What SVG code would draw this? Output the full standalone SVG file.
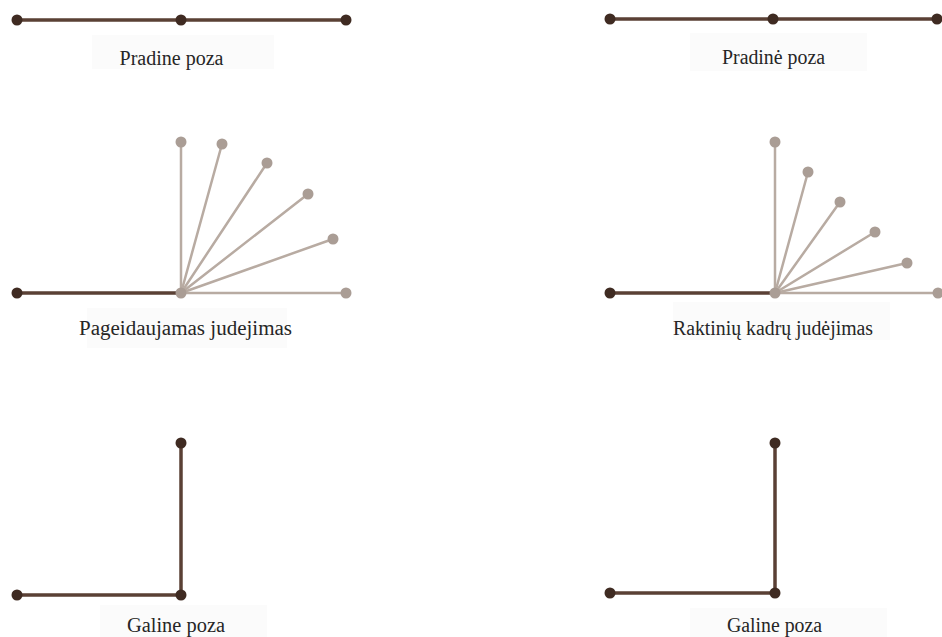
<svg xmlns="http://www.w3.org/2000/svg" width="942" height="637" viewBox="0 0 942 637">
<style>
.bg{fill:#ffffff}
.box{fill:#fbfbfb}
.dk{stroke:#5a4035;stroke-width:3.5;stroke-linecap:round;fill:none}
.lt{stroke:#b8aba2;stroke-width:2.5;stroke-linecap:round;fill:none}
.dd{fill:#3f2b22}
.ld{fill:#aa9d95}
.lbl{font-family:"Liberation Serif","Times New Roman",serif;font-size:20px;fill:#262626;text-anchor:middle}
</style>
<rect class="bg" width="942" height="637"/>
<g id="labels">
<g id="lbl-tl"><rect class="box" x="92" y="35" width="182" height="34"/><text class="lbl" x="171.5" y="65" textLength="104" lengthAdjust="spacingAndGlyphs">Pradine poza</text></g>
<g id="lbl-tr"><rect class="box" x="690" y="33" width="177" height="38"/><text class="lbl" x="773.5" y="64" textLength="103" lengthAdjust="spacingAndGlyphs">Pradinė poza</text></g>
<g id="lbl-ml"><rect class="box" x="87" y="308" width="200" height="40"/><text class="lbl" x="185.5" y="335" textLength="213" lengthAdjust="spacingAndGlyphs">Pageidaujamas judejimas</text></g>
<g id="lbl-mr"><rect class="box" x="673" y="302" width="217" height="38"/><text class="lbl" x="773" y="335" textLength="200" lengthAdjust="spacingAndGlyphs">Raktinių kadrų judėjimas</text></g>
<g id="lbl-bl"><rect class="box" x="100" y="605" width="167" height="32"/><text class="lbl" x="176" y="632" textLength="98" lengthAdjust="spacingAndGlyphs">Galine poza</text></g>
<g id="lbl-br"><rect class="box" x="690" y="608" width="197" height="29"/><text class="lbl" x="774.5" y="632" textLength="95" lengthAdjust="spacingAndGlyphs">Galine poza</text></g>
</g>
<g id="connectors">
<line class="dk" x1="17" y1="20" x2="346" y2="20"/>
<line class="dk" x1="610" y1="19" x2="937" y2="19"/>
<line class="dk" x1="17" y1="293" x2="181" y2="293"/>
<line class="lt" x1="181" y1="293" x2="346" y2="293"/>
<line class="lt" x1="181" y1="293" x2="181" y2="142"/>
<line class="lt" x1="181" y1="293" x2="222" y2="144"/>
<line class="lt" x1="181" y1="293" x2="267" y2="163"/>
<line class="lt" x1="181" y1="293" x2="308" y2="194"/>
<line class="lt" x1="181" y1="293" x2="333" y2="239"/>
<line class="dk" x1="610" y1="293" x2="775" y2="293"/>
<line class="lt" x1="775" y1="293" x2="938" y2="293"/>
<line class="lt" x1="775" y1="293" x2="775" y2="142"/>
<line class="lt" x1="775" y1="293" x2="808" y2="172"/>
<line class="lt" x1="775" y1="293" x2="840" y2="202"/>
<line class="lt" x1="775" y1="293" x2="875" y2="232"/>
<line class="lt" x1="775" y1="293" x2="907" y2="263"/>
<line class="dk" x1="17" y1="595" x2="181" y2="595"/>
<line class="dk" x1="181" y1="595" x2="181" y2="443"/>
<line class="dk" x1="610" y1="593" x2="775" y2="593"/>
<line class="dk" x1="775" y1="593" x2="775" y2="443"/>
</g>
<g id="n-tl1"><circle class="dd" cx="17" cy="20" r="5.5"/></g>
<g id="n-tl2"><circle class="dd" cx="181" cy="20" r="5.5"/></g>
<g id="n-tl3"><circle class="dd" cx="346" cy="20" r="5.5"/></g>
<g id="n-tr1"><circle class="dd" cx="610" cy="19" r="5.5"/></g>
<g id="n-tr2"><circle class="dd" cx="773" cy="19" r="5.5"/></g>
<g id="n-tr3"><circle class="dd" cx="937" cy="19" r="5.5"/></g>
<g id="n-ml1"><circle class="dd" cx="17" cy="293" r="5.5"/></g>
<g id="n-ml2"><circle class="ld" cx="181" cy="293" r="5.5"/></g>
<g id="n-ml3"><circle class="ld" cx="346" cy="293" r="5.5"/></g>
<g id="n-ml4"><circle class="ld" cx="181" cy="142" r="5.5"/></g>
<g id="n-ml5"><circle class="ld" cx="222" cy="144" r="5.5"/></g>
<g id="n-ml6"><circle class="ld" cx="267" cy="163" r="5.5"/></g>
<g id="n-ml7"><circle class="ld" cx="308" cy="194" r="5.5"/></g>
<g id="n-ml8"><circle class="ld" cx="333" cy="239" r="5.5"/></g>
<g id="n-mr1"><circle class="dd" cx="610" cy="293" r="5.5"/></g>
<g id="n-mr2"><circle class="ld" cx="775" cy="293" r="5.5"/></g>
<g id="n-mr3"><circle class="ld" cx="938" cy="293" r="5.5"/></g>
<g id="n-mr4"><circle class="ld" cx="775" cy="142" r="5.5"/></g>
<g id="n-mr5"><circle class="ld" cx="808" cy="172" r="5.5"/></g>
<g id="n-mr6"><circle class="ld" cx="840" cy="202" r="5.5"/></g>
<g id="n-mr7"><circle class="ld" cx="875" cy="232" r="5.5"/></g>
<g id="n-mr8"><circle class="ld" cx="907" cy="263" r="5.5"/></g>
<g id="n-bl1"><circle class="dd" cx="17" cy="595" r="5.5"/></g>
<g id="n-bl2"><circle class="dd" cx="181" cy="595" r="5.5"/></g>
<g id="n-bl3"><circle class="dd" cx="181" cy="443" r="5.5"/></g>
<g id="n-br1"><circle class="dd" cx="610" cy="593" r="5.5"/></g>
<g id="n-br2"><circle class="dd" cx="775" cy="593" r="5.5"/></g>
<g id="n-br3"><circle class="dd" cx="775" cy="443" r="5.5"/></g>
</svg>
